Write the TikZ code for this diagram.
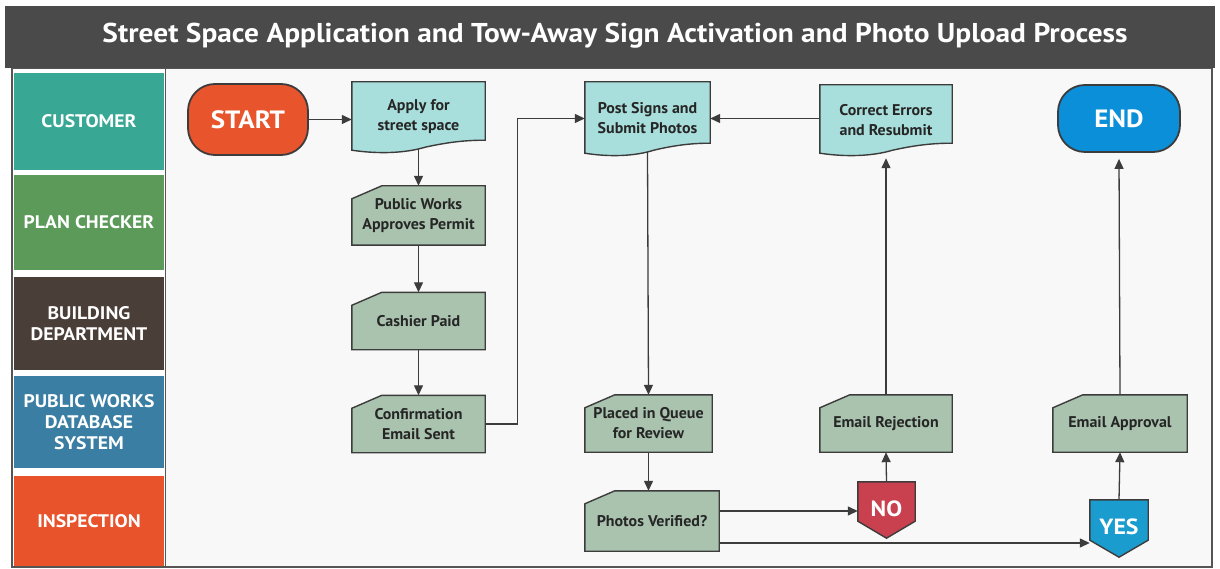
\documentclass[tikz,border=0pt]{standalone}
\usepackage{fontspec}
\setmainfont{PT Sans}[FakeStretch=1.08]
\newfontfamily\medfont{PT Sans Bold}[FakeStretch=1.03]
\usetikzlibrary{arrows.meta,calc}
\pgfdeclarelayer{bg}
\pgfsetlayers{bg,main}
\definecolor{titlebg}{HTML}{4A4A4A}
\definecolor{framec}{HTML}{555555}
\definecolor{areabg}{HTML}{F8F8F8}
\definecolor{custc}{HTML}{38A895}
\definecolor{planc}{HTML}{5B9A58}
\definecolor{buildc}{HTML}{4A3E38}
\definecolor{pwc}{HTML}{3A7FA3}
\definecolor{inspc}{HTML}{E8532B}
\definecolor{startc}{HTML}{E8552D}
\definecolor{endc}{HTML}{0B8FD9}
\definecolor{noc}{HTML}{C9404F}
\definecolor{yesc}{HTML}{1A9CCF}
\definecolor{docfill}{HTML}{A8DEDB}
\definecolor{cardfill}{HTML}{A9C3AE}
\definecolor{edgec}{HTML}{3C3C3C}
\definecolor{txtc}{HTML}{262626}
\newcommand{\docshape}[1]{%
  \filldraw[fill=docfill,draw=edgec,line width=1.4pt]
    (#1.north west) -- (#1.north east) -- ($(#1.south east)+(0,-12)$)
    .. controls ($(#1.south west)!0.85!(#1.south east)+(0,-12)$) and ($(#1.south west)!0.72!(#1.south east)+(0,-10)$)
    .. ($(#1.south west)!0.55!(#1.south east)+(0,-5)$)
    .. controls ($(#1.south west)!0.4!(#1.south east)+(0,1)$) and ($(#1.south west)!0.2!(#1.south east)+(0,2)$)
    .. ($(#1.south west)+(0,-2)$) -- cycle;}
\newcommand{\cardshape}[1]{%
  \filldraw[fill=cardfill,draw=edgec,line width=1.4pt]
    (#1.south west) -- ($(#1.north west)+(0,13)$) -- ($(#1.north west)+(30,0)$)
    -- (#1.north east) -- (#1.south east) -- cycle;}
\newcommand{\shieldshape}[2]{%
  \filldraw[fill=#2,draw=edgec,line width=1.4pt]
    (#1.north west) -- (#1.north east) -- ($(#1.south east)+(0,-17)$)
    -- (#1.south) -- ($(#1.south west)+(0,-17)$) -- cycle;}
\tikzset{
  lane/.style={rectangle,minimum width=150,text=white,font=\fontsize{18.2}{20}\selectfont\bfseries,align=center,inner sep=0},
  term/.style={rectangle,rounded corners=27,draw=edgec,line width=1.8pt,text=white,font=\fontsize{25}{27}\selectfont\bfseries,inner sep=0},
  box/.style={rectangle,inner sep=0,text=txtc,font=\medfont\fontsize{15.5}{20}\selectfont,align=center},
  arr/.style={draw=edgec,line width=1.3pt,-{Triangle[length=10pt,width=9pt]}},
  decision/.style={rectangle,inner sep=0,text=white,font=\fontsize{22}{24}\selectfont\bfseries}
}
\begin{document}
\begin{tikzpicture}[x=1pt,y=-1pt]
\useasboundingbox (0,0) rectangle (1220,569);
\begin{pgfonlayer}{bg}
\fill[white] (0,0) rectangle (1220,569);
\fill[areabg] (12,68) rectangle (1212,567);
\draw[framec,line width=1.5pt] (12,68) rectangle (1212,567);
\fill[titlebg] (5,6) rectangle (1215,68);
\fill[white] (13,69) rectangle (165,566);
\draw[framec,line width=1.2pt] (165.5,68) -- (165.5,567);
\end{pgfonlayer}
\node[text=white,font=\fontsize{27.2}{29}\selectfont\bfseries] (title) at (615,36) {Street Space Application and Tow-Away Sign Activation and Photo Upload Process};
% lanes
\node[lane,fill=custc,minimum height=97] (l1) at (89,121.5) {CUSTOMER};
\node[lane,fill=planc,minimum height=95] (l2) at (89,222.5) {PLAN CHECKER};
\node[lane,fill=buildc,minimum height=93] (l3) at (89,323.5) {BUILDING\\[1pt]DEPARTMENT};
\node[lane,fill=pwc,minimum height=92] (l4) at (89,422) {PUBLIC WORKS\\[1pt]DATABASE\\[1pt]SYSTEM};
\node[lane,fill=inspc,minimum height=90] (l5) at (89,521) {INSPECTION};
% terminals
\node[term,fill=startc,minimum width=120,minimum height=71] (start) at (248,119.5) {START};
\node[term,fill=endc,minimum width=122,minimum height=67] (end) at (1119,118.5) {END};
% document nodes
\node[box,minimum width=133,minimum height=70] (apply) at (418.5,117) {Apply for\\street space};
\node[box,minimum width=125,minimum height=73] (post) at (647.5,118.5) {Post Signs and\\Submit Photos};
\node[box,minimum width=132,minimum height=70] (corr) at (886,120) {Correct Errors\\and Resubmit};
% cards
\node[box,minimum width=133,minimum height=59] (pw) at (418.5,215.5) {Public Works\\Approves Permit};
\node[box,minimum width=133,minimum height=57] (cash) at (418.5,321) {Cashier Paid};
\node[box,minimum width=133,minimum height=57] (conf) at (418.5,424) {Confirmation\\Email Sent};
\node[box,minimum width=127,minimum height=57] (queue) at (648.5,423.5) {Placed in Queue\\for Review};
\node[box,minimum width=134,minimum height=60] (verif) at (652,521) {Photos Verified?};
\node[box,minimum width=132,minimum height=57] (rej) at (886,423.5) {Email Rejection};
\node[box,minimum width=134,minimum height=57] (appr) at (1120,423.5) {Email Approval};
% decisions
\node[decision,minimum width=57,minimum height=56] (no) at (886.5,510) {\raisebox{3pt}{NO}};
\node[decision,minimum width=58,minimum height=57] (yes) at (1119,528.5) {\raisebox{3pt}{YES}};
\begin{pgfonlayer}{bg}
\docshape{apply}\docshape{post}\docshape{corr}
\cardshape{pw}\cardshape{cash}\cardshape{conf}\cardshape{queue}\cardshape{verif}\cardshape{rej}\cardshape{appr}
\shieldshape{no}{noc}\shieldshape{yes}{yesc}
\end{pgfonlayer}
% connectors
\coordinate (vno) at ($(verif.east)+(0,-10)$);
\coordinate (vyes) at ($(verif.east)+(0,22)$);
\coordinate (bend) at ($(conf.east)+(32,0)$);
\draw[arr] (start.east) -- (apply.west |- start.east);
\draw[arr] ($(apply.south)+(0,-3)$) -- (pw.north);
\draw[arr] (pw.south) -- (cash.north);
\draw[arr] (cash.south) -- (conf.north);
\draw[arr] (conf.east) -- (bend) |- (post.west);
\draw[arr] (corr.west |- post.west) -- (post.east);
\draw[arr] ($(post.south)+(0,-3)$) -- (queue.north);
\draw[arr] (queue.south) -- (queue.south |- verif.north);
\draw[arr] (vno) -- (vno -| no.west);
\draw[arr] (vyes) -- (vyes -| yes.west);
\draw[arr] (no.north) -- (rej.south);
\draw[arr] (yes.north) -- (appr.south);
\draw[arr] (rej.north) -- ($(corr.south)+(0,3)$);
\draw[arr] (appr.north) -- ($(end.south)+(0,6)$);
\end{tikzpicture}
\end{document}
